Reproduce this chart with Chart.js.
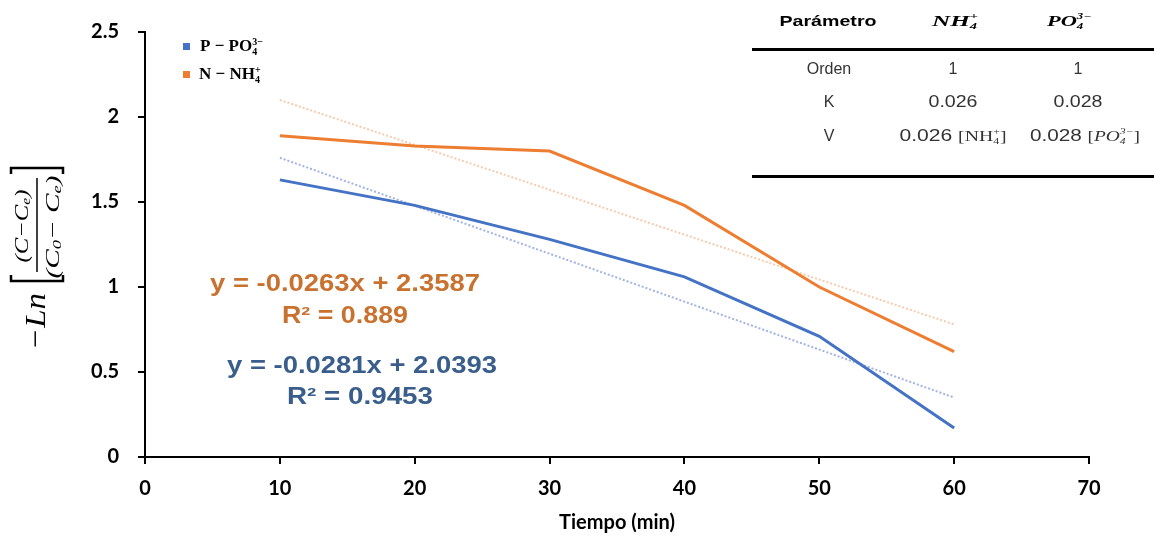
<!DOCTYPE html>
<html>
<head>
<meta charset="utf-8">
<script src="https://cdn.jsdelivr.net/npm/chart.js@4.4.0/dist/chart.umd.min.js"></script>
<style>
  html, body { margin: 0; padding: 0; background: #fff; }
  canvas { display: block; }
</style>
</head>
<body>
<canvas id="c" width="1154" height="544"></canvas>
<script>
// datos
const tiempo = [10, 20, 30, 40, 50, 60];
const fosfato = [1.63, 1.48, 1.28, 1.06, 0.71, 0.17];
const amonio = [1.89, 1.83, 1.80, 1.48, 1.00, 0.62];
const trendX = [10, 60];
const fosfatoTrend = [1.76, 0.35];
const amonioTrend = [2.10, 0.78];
const ecuacionAmonio = ['y = -0.0263x + 2.3587', 'R² = 0.889'];
const ecuacionFosfato = ['y = -0.0281x + 2.0393', 'R² = 0.9453'];
const filasTabla = ['Orden', 'K', 'V'];
const colNH4 = ['1', '0.026', '0.026'];
const colPO4 = ['1', '0.028', '0.028'];

const AZUL = '#4472C4';
const NARANJA = '#ED7D31';
const SERIF = '"Liberation Serif", "DejaVu Serif", serif';
const SANS = '"Liberation Sans", Arial, sans-serif';

function pts(xs, ys) {
  return xs.map((x, i) => ({ x: x, y: ys[i] }));
}

// texto con sub/superindices apilados
function richWidth(c, parts) {
  let w = 0;
  parts.forEach(p => {
    c.font = p.f;
    if (p.sup != null) w += Math.max(c.measureText(p.sup).width, c.measureText(p.sub).width);
    else w += c.measureText(p.t).width;
  });
  return w;
}

function drawRich(c, x, y, parts, opt) {
  opt = opt || {};
  const w = richWidth(c, parts);
  const sx = opt.width ? opt.width / w : 1;
  c.save();
  c.translate(x, y);
  c.scale(sx, 1);
  let cx = opt.align === 'left' ? 0 : -w / 2;
  c.textAlign = 'left';
  c.textBaseline = 'middle';
  parts.forEach(p => {
    c.font = p.f;
    c.fillStyle = p.c || opt.color || '#000';
    if (p.sup != null) {
      c.fillText(p.sup, cx, -p.d);
      c.fillText(p.sub, cx, p.d);
      cx += Math.max(c.measureText(p.sup).width, c.measureText(p.sub).width);
    } else {
      c.fillText(p.t, cx, p.dy || 0);
      cx += c.measureText(p.t).width;
    }
  });
  c.restore();
}

const extras = {
  id: 'extras',
  afterDraw(chart) {
    const c = chart.ctx;
    const area = chart.chartArea;

    // titulo eje x
    drawRich(c, (area.left + area.right) / 2, 523,
      [{ t: 'Tiempo (min)', f: 'bold 20px Lato' }]);

    // titulo eje y (rotado)
    c.save();
    c.translate(37, 350);
    c.rotate(-Math.PI / 2);
    drawRich(c, 0, 0, [{ t: '−Ln', f: 'italic 30px ' + SERIF }], { align: 'left', width: 57 });
    c.strokeStyle = '#000';
    c.lineWidth = 2.5;
    c.beginPath();
    c.moveTo(75, -26); c.lineTo(69, -26); c.lineTo(69, 26); c.lineTo(75, 26);
    c.moveTo(176, -26); c.lineTo(182, -26); c.lineTo(182, 26); c.lineTo(176, 26);
    c.stroke();
    c.lineWidth = 1.5;
    c.beginPath();
    c.moveTo(78, 0); c.lineTo(172, 0);
    c.stroke();
    const fi = 'italic 19px ' + SERIF;
    const fs = 'italic 12px ' + SERIF;
    drawRich(c, 124, -14, [
      { t: '(C−C', f: fi }, { t: 'e', f: fs, dy: 4 }, { t: ')', f: fi }
    ], { width: 73 });
    drawRich(c, 123, 17, [
      { t: '(C', f: fi }, { t: '0', f: fs, dy: 4 }, { t: '− C', f: fi },
      { t: 'e', f: fs, dy: 4 }, { t: ')', f: fi }
    ], { width: 103 });
    c.restore();

    // leyenda
    c.fillStyle = AZUL;
    c.fillRect(183, 43, 7, 7);
    c.fillStyle = NARANJA;
    c.fillRect(183, 71, 7, 7);
    const lf = 'bold 17px ' + SERIF;
    const lfs = 'bold 10px ' + SERIF;
    drawRich(c, 200, 47, [{ t: 'P − PO', f: lf }, { sup: '3−', sub: '4', d: 5, f: lfs }], { align: 'left' });
    drawRich(c, 199, 75, [{ t: 'N − NH', f: lf }, { sup: '+', sub: '4', d: 5, f: lfs }], { align: 'left' });

    // ecuaciones de tendencia
    const ef = 'bold 23px ' + SANS;
    drawRich(c, 345, 285, [{ t: ecuacionAmonio[0], f: ef }], { width: 270, color: '#C9722F' });
    drawRich(c, 345, 317, [{ t: ecuacionAmonio[1], f: ef }], { width: 126, color: '#C9722F' });
    drawRich(c, 362, 367, [{ t: ecuacionFosfato[0], f: ef }], { width: 270, color: '#3A5E8C' });
    drawRich(c, 360, 398, [{ t: ecuacionFosfato[1], f: ef }], { width: 146, color: '#3A5E8C' });

    // tabla
    const cx0 = 828, cx1 = 955, cx2 = 1075;
    drawRich(c, cx0, 22, [{ t: 'Parámetro', f: 'bold 15px ' + SANS }], { width: 97 });
    const hf = 'italic bold 14px ' + SERIF;
    const hfs = 'italic bold 8px ' + SERIF;
    drawRich(c, cx1, 22, [{ t: 'NH', f: hf }, { sup: '+', sub: '4', d: 5, f: hfs }], { width: 46 });
    drawRich(c, cx2 - 6, 22, [{ t: 'PO', f: hf }, { sup: '3−', sub: '4', d: 5, f: hfs }], { width: 44 });
    c.fillStyle = '#000';
    c.fillRect(752, 48, 402, 3);
    c.fillRect(752, 175, 402, 3);
    const rf = '16px ' + SANS;
    const rows = [70, 103, 137];
    filasTabla.forEach((r, i) => {
      drawRich(c, cx0 + 1, rows[i], [{ t: r, f: rf }], { color: '#333' });
      if (i === 0) {
        drawRich(c, cx1 - 2, rows[i], [{ t: colNH4[i], f: rf }], { color: '#333' });
        drawRich(c, cx2 + 3, rows[i], [{ t: colPO4[i], f: rf }], { color: '#333' });
      } else if (i === 1) {
        drawRich(c, cx1 - 2, rows[i], [{ t: colNH4[i], f: rf }], { color: '#333', width: 49 });
        drawRich(c, cx2 + 3, rows[i], [{ t: colPO4[i], f: rf }], { color: '#333', width: 49 });
      }
    });
    const vf = '15px ' + SERIF;
    const vfs = '9px ' + SERIF;
    drawRich(c, cx1 - 2, rows[2], [
      { t: colNH4[2] + ' ', f: rf }, { t: '[NH', f: vf },
      { sup: '+', sub: '4', d: 5, f: vfs }, { t: ']', f: vf }
    ], { color: '#333', width: 107 });
    drawRich(c, cx2 + 10, rows[2], [
      { t: colPO4[2] + ' ', f: rf }, { t: '[', f: vf }, { t: 'PO', f: 'italic ' + vf },
      { sup: '3−', sub: '4', d: 5, f: 'italic ' + vfs }, { t: ']', f: vf }
    ], { color: '#333', width: 110 });
  }
};

const ctx = document.getElementById('c').getContext('2d');
const chart = new Chart(ctx, {
  type: 'scatter',
  data: {
    datasets: [
      {
        label: 'P - PO4', data: pts(tiempo, fosfato), showLine: true,
        borderColor: AZUL, borderWidth: 3, pointRadius: 0, order: 0
      },
      {
        label: 'N - NH4', data: pts(tiempo, amonio), showLine: true,
        borderColor: NARANJA, borderWidth: 3, pointRadius: 0, order: 0
      },
      {
        label: 'Lineal P', data: pts(trendX, fosfatoTrend), showLine: true,
        borderColor: '#A3B3E3', borderWidth: 2, borderDash: [2, 2], pointRadius: 0, order: 1
      },
      {
        label: 'Lineal N', data: pts(trendX, amonioTrend), showLine: true,
        borderColor: '#F7CBAE', borderWidth: 2, borderDash: [2, 2], pointRadius: 0, order: 1
      }
    ]
  },
  options: {
    responsive: false,
    animation: false,
    layout: { padding: { left: 0, right: 65, top: 32, bottom: 0 } },
    plugins: { legend: { display: false }, tooltip: { enabled: false } },
    scales: {
      x: {
        type: 'linear', min: 0, max: 70,
        ticks: { stepSize: 10, color: '#000', padding: 13, font: { family: 'Lato', weight: 'bold', size: 20 } },
        grid: { drawOnChartArea: false, tickLength: 7, color: '#000', lineWidth: 2 },
        border: { color: '#000', width: 2 },
        afterFit(s) { s.height = 87; }
      },
      y: {
        min: 0, max: 2.5,
        ticks: {
          stepSize: 0.5, color: '#000', padding: 19,
          font: { family: 'Lato', weight: 'bold', size: 20 },
          callback: v => String(v)
        },
        grid: { drawOnChartArea: false, tickLength: 7, color: '#000', lineWidth: 2 },
        border: { color: '#000', width: 2 },
        afterFit(s) { s.width = 145; }
      }
    }
  },
  plugins: [extras]
});
</script>
</body>
</html>
